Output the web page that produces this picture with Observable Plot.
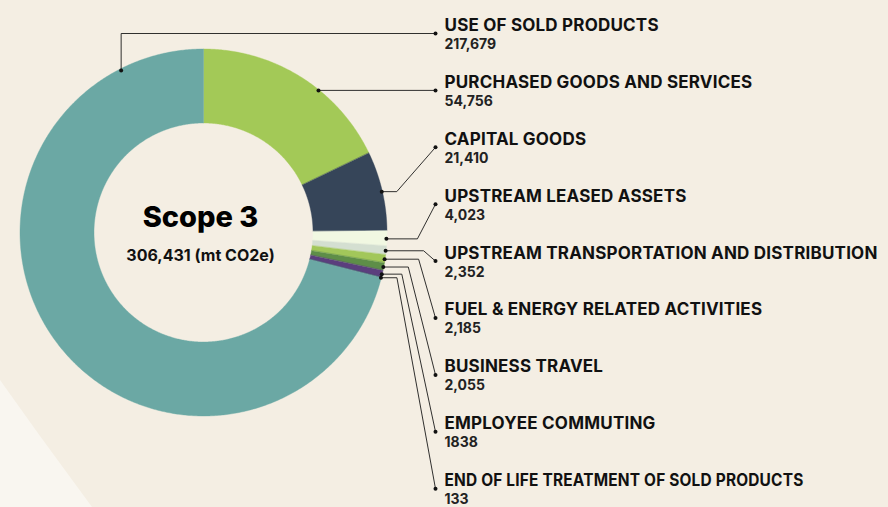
<!DOCTYPE html>
<html>
<head>
<meta charset="utf-8">
<script src="https://cdn.jsdelivr.net/npm/d3@7"></script>
<script src="https://cdn.jsdelivr.net/npm/@observablehq/plot@0.6"></script>
<style>
  html, body { margin: 0; padding: 0; background: #F4EEE3; }
  #wrap { position: relative; width: 888px; height: 507px; overflow: hidden; background: #F4EEE3; font-family: Inter, "Noto Sans", sans-serif; }
  #corner { position: absolute; left: 0; top: 0; width: 888px; height: 507px; background: #F9F6F0; clip-path: polygon(0 380px, 40px 436px, 92px 507px, 0 507px); }
  #chart { position: absolute; left: 0; top: 0; }
  .cat-label text { letter-spacing: 0.2px; }
</style>
</head>
<body>
<div id="wrap"><div id="corner"></div><div id="chart"></div></div>
<script>
// ---- data (label order, top to bottom) ----
const categories = [
  "USE OF SOLD PRODUCTS",
  "PURCHASED GOODS AND SERVICES",
  "CAPITAL GOODS",
  "UPSTREAM LEASED ASSETS",
  "UPSTREAM TRANSPORTATION AND DISTRIBUTION",
  "FUEL & ENERGY RELATED ACTIVITIES",
  "BUSINESS TRAVEL",
  "EMPLOYEE COMMUTING",
  "END OF LIFE TREATMENT OF SOLD PRODUCTS"
];
const values = [217679, 54756, 21410, 4023, 2352, 2185, 2055, 1838, 133];
const valueLabels = ["217,679", "54,756", "21,410", "4,023", "2,352", "2,185", "2,055", "1838", "133"];
// clockwise order of the slices, starting at 12 o'clock
const sliceOrder = [
  "PURCHASED GOODS AND SERVICES",
  "CAPITAL GOODS",
  "UPSTREAM LEASED ASSETS",
  "UPSTREAM TRANSPORTATION AND DISTRIBUTION",
  "FUEL & ENERGY RELATED ACTIVITIES",
  "BUSINESS TRAVEL",
  "EMPLOYEE COMMUTING",
  "END OF LIFE TREATMENT OF SOLD PRODUCTS",
  "USE OF SOLD PRODUCTS"
];
const colors = ["#6BA8A4", "#A3C957", "#364559", "#F1F8E2", "#D4DFD1", "#A2C75A", "#5E8E48", "#5B3E7D", "#3B4F63"];
const centerTitle = "Scope 3";
const unitLabel = "(mt CO2e)";

// ---- layout (pixels) ----
const W = 888, H = 507;
const CX = 203.5, CY = 232.5;   // donut centre
const R = 183.5, r0 = 109.5;    // outer / inner radius
const px = X => X - CX;          // pixel -> data
const py = Y => CY - Y;

const total = d3.sum(values);
const valueOf = new Map(categories.map((c, i) => [c, values[i]]));

// slice angles (degrees, clockwise from top)
const angles = new Map();
let acc = 0;
for (const c of sliceOrder) {
  const a0 = acc / total * 360;
  acc += valueOf.get(c);
  const a1 = acc / total * 360;
  angles.set(c, [a0, a1]);
}
const rad = a => a * Math.PI / 180;
const polar = (a, rr) => ({x: rr * Math.sin(rad(a)), y: rr * Math.cos(rad(a))});

// ring polygons
const ring = [];
for (const c of sliceOrder) {
  const [a0, a1] = angles.get(c);
  const n = Math.max(2, Math.ceil((a1 - a0) / 0.5));
  for (let k = 0; k <= n; k++) {
    const a = a0 + (a1 - a0) * k / n;
    const o = polar(a, R), ii = polar(a, r0);
    ring.push({cat: c, x1: o.x, y1: o.y, x2: ii.x, y2: ii.y});
  }
}

// label rows
const rowTop = 25, rowStep = 56.9;
const textX = 444, dotX = 435;
const titleY = i => rowTop + rowStep * i;
const labelRows = categories.map((c, i) => ({
  cat: c, value: valueLabels[i],
  tx: px(textX), ty: py(titleY(i)), vy: py(titleY(i) + 19),
  dx: px(dotX), dy: py(titleY(i) + 8)
}));

// leader lines
const runs = [0, 0, 15, 31, 38, 34, 25, 20, 16];
const leaders = [];
const anchors = [];
categories.forEach((c, i) => {
  const end = {x: labelRows[i].dx, y: labelRows[i].dy};
  let pts;
  if (i === 0) {
    const a = polar(333, R - 1);
    pts = [a, {x: a.x, y: end.y}, end];
  } else if (i === 1) {
    const a = {x: Math.sqrt(R * R - end.y * end.y) - 1, y: end.y};
    pts = [a, end];
  } else {
    const [a0, a1] = angles.get(c);
    const a = polar((a0 + a1) / 2, R - 1);
    pts = [a, {x: a.x + runs[i], y: a.y}, end];
  }
  anchors.push(pts[0], end);
  pts.forEach((p, k) => leaders.push({id: c, k, x: p.x, y: p.y}));
});

const plot = Plot.plot({
  width: W, height: H,
  margin: 0,
  x: {domain: [px(0), px(W)], range: [0, W], axis: null},
  y: {domain: [py(H), py(0)], range: [H, 0], axis: null},
  color: {domain: categories, range: colors},
  style: {background: "transparent", fontFamily: "Inter, 'Noto Sans', sans-serif"},
  marks: [
    Plot.area(ring, {x1: "x1", y1: "y1", x2: "x2", y2: "y2", z: "cat", fill: "cat", stroke: "cat", strokeWidth: 0.4}),
    Plot.line(leaders, {x: "x", y: "y", z: "id", stroke: "#1a1a1a", strokeWidth: 0.9}),
    Plot.dot(anchors, {x: "x", y: "y", r: 2, fill: "#111", stroke: null}),
    Plot.text(labelRows, {x: "tx", y: "ty", text: "cat", textAnchor: "start", lineAnchor: "middle",
      fontSize: 17, fontWeight: 700, fill: "#111", className: "cat-label"}),
    Plot.text(labelRows, {x: "tx", y: "vy", text: "value", textAnchor: "start", lineAnchor: "middle",
      fontSize: 14, fontWeight: 700, fill: "#222"}),
    Plot.text([centerTitle], {x: () => px(200), y: () => py(217), text: d => d, textAnchor: "middle", lineAnchor: "middle",
      fontSize: 29, fontWeight: 800, fill: "#000"}),
    Plot.text([total], {x: () => px(200), y: () => py(255), text: d => `${d3.format(",")(d)} ${unitLabel}`, textAnchor: "middle", lineAnchor: "middle",
      fontSize: 16, fontWeight: 700, fill: "#111"})
  ]
});
// the last label is set more tightly in the reference
d3.select(plot).selectAll("text").filter(function() { return this.textContent === categories[8]; })
  .attr("textLength", 359).attr("lengthAdjust", "spacingAndGlyphs");
document.getElementById("chart").appendChild(plot);
</script>
</body>
</html>
